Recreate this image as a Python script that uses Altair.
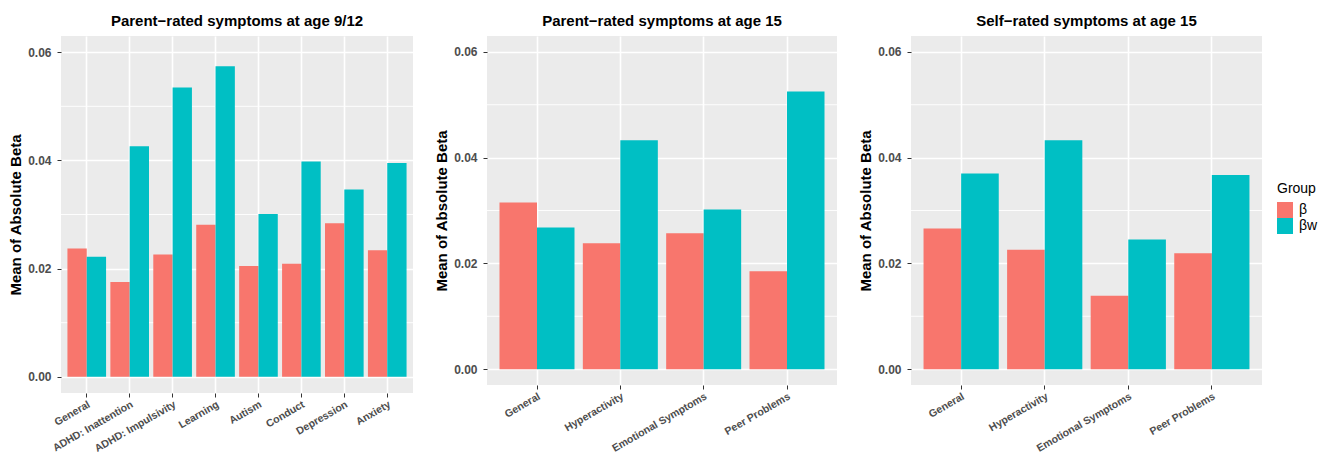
import altair as alt
import pandas as pd

groups = ["β", "βw"]
colors = ["#F8766D", "#00BFC4"]

cats1 = ["General", "ADHD: Inattention", "ADHD: Impulsivity", "Learning",
         "Autism", "Conduct", "Depression", "Anxiety"]
beta1 = [0.0237, 0.0175, 0.0226, 0.0281, 0.0205, 0.0209, 0.0284, 0.0234]
betaw1 = [0.0222, 0.0426, 0.0535, 0.0574, 0.0301, 0.0398, 0.0346, 0.0395]

cats2 = ["General", "Hyperactivity", "Emotional Symptoms", "Peer Problems"]
beta2 = [0.0315, 0.0238, 0.0257, 0.0185]
betaw2 = [0.0268, 0.0433, 0.0302, 0.0525]

cats3 = ["General", "Hyperactivity", "Emotional Symptoms", "Peer Problems"]
beta3 = [0.0266, 0.0226, 0.0139, 0.0219]
betaw3 = [0.0370, 0.0433, 0.0245, 0.0367]

titles = ["Parent\u2212rated symptoms at age 9/12",
          "Parent\u2212rated symptoms at age 15",
          "Self\u2212rated symptoms at age 15"]

major_ticks = [0.0, 0.02, 0.04, 0.06]
minor_breaks = [0.01, 0.03, 0.05]

FONT = "Liberation Sans"


def panel(cats, beta, betaw, title, width, height, legend):
    df = pd.DataFrame({
        "cat": cats * 2,
        "group": [groups[0]] * len(cats) + [groups[1]] * len(cats),
        "value": beta + betaw,
    })
    yscale = alt.Scale(domain=[-0.003, 0.063], nice=False, zero=False)
    yaxis = alt.Axis(values=major_ticks, format=".2f")
    minor = alt.Chart(pd.DataFrame({"v": minor_breaks})).mark_rule(
        color="white", strokeWidth=0.9
    ).encode(y=alt.Y("v:Q", scale=yscale, axis=yaxis, title="Mean of Absolute Beta"))
    bars = alt.Chart(df).mark_bar().encode(
        x=alt.X("cat:N", sort=cats, title=None,
                scale=alt.Scale(paddingInner=0.1, paddingOuter=0.15),
                axis=alt.Axis(labelAngle=-30, labelAlign="right", labelBaseline="top",
                              bandPosition=0.5, grid=True, labelFontSize=10.5,
                              labelPadding=2, labelLimit=0, labelBound=False)),
        xOffset=alt.XOffset("group:N", sort=groups,
                            scale=alt.Scale(paddingInner=0, paddingOuter=0)),
        y=alt.Y("value:Q", scale=yscale, title="Mean of Absolute Beta", axis=yaxis),
        y2=alt.datum(0),
        color=alt.Color("group:N", sort=groups,
                        scale=alt.Scale(domain=groups, range=colors),
                        legend=alt.Legend(title="Group", orient="none",
                                          legendX=width + 15, legendY=146,
                                          symbolType="square", symbolSize=256,
                                          symbolStrokeWidth=0, titleFontSize=14,
                                          titleFontWeight="normal", labelFontSize=14,
                                          titlePadding=6, rowPadding=0,
                                          labelOffset=6, symbolOffset=0)
                        if legend else None),
    )
    return alt.layer(minor, bars).properties(
        width=width, height=height,
        title=alt.TitleParams(title, fontSize=15, fontWeight="bold", font=FONT,
                              anchor="middle", offset=7, color="black"),
    )


p1 = panel(cats1, beta1, betaw1, titles[0], 352, 357, False)
p2 = panel(cats2, beta2, betaw2, titles[1], 350, 349, False)
p3 = panel(cats3, beta3, betaw3, titles[2], 351, 349, True)

chart = alt.hconcat(p1, p2, p3, spacing=20).resolve_scale(
    x="independent", xOffset="independent"
).resolve_legend(
    color="independent"
).properties(
    padding={"left": 0, "top": 6, "right": 0, "bottom": 0},
    background="white",
).configure_view(
    fill="#EBEBEB", stroke=None
).configure_axis(
    gridColor="white", gridWidth=1.6, domain=False,
    tickColor="#333333", tickSize=4, tickWidth=1,
    labelFont=FONT, labelFontWeight="bold", labelColor="#4D4D4D", labelFontSize=12,
    titleFont=FONT, titleFontWeight="bold", titleColor="black", titleFontSize=15,
    labelPadding=6, titlePadding=4,
).configure_legend(
    labelFont=FONT, titleFont=FONT, labelColor="black", titleColor="black"
)

chart.save("out.html", embed_options={"renderer": "svg", "actions": False})
